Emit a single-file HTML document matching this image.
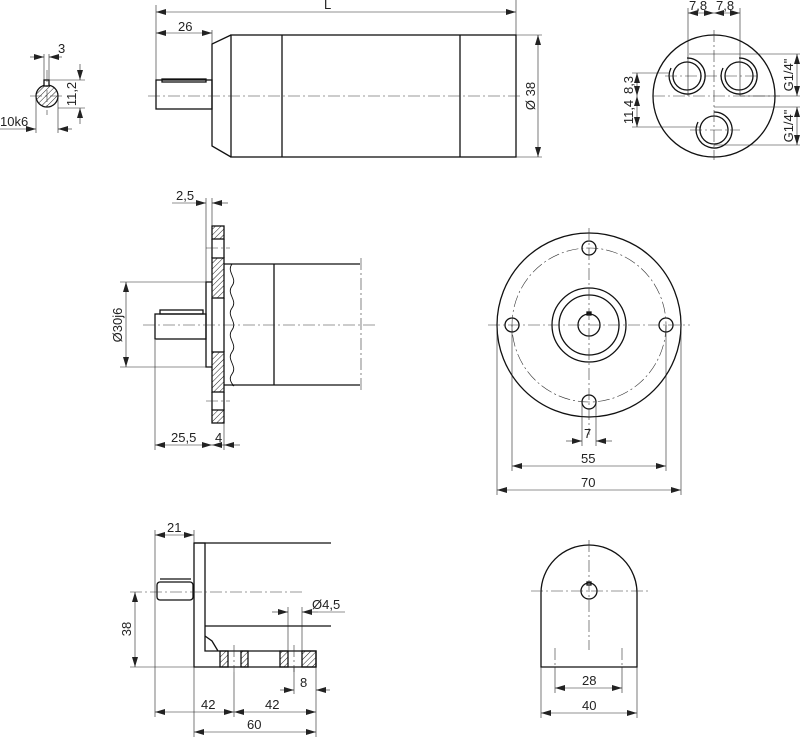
<!DOCTYPE html>
<html><head><style>body{margin:0;background:#fff}svg{display:block}text{font-family:"Liberation Sans",sans-serif;font-size:13px;fill:#222}</style></head><body>
<svg width="800" height="737" viewBox="0 0 800 737" xmlns="http://www.w3.org/2000/svg">
<defs>
<marker id="a" viewBox="0 0 10 6" refX="10" refY="3" markerWidth="10" markerHeight="6" orient="auto-start-reverse" markerUnits="userSpaceOnUse"><path d="M0,0L10,3L0,6z" fill="#222"/></marker>
<pattern id="h" width="4" height="4" patternUnits="userSpaceOnUse" patternTransform="rotate(45)"><line x1="0" y1="0" x2="0" y2="4" stroke="#222" stroke-width="1"/></pattern>
</defs>
<g fill="none" stroke="#111" stroke-width="1.3">
<rect x="231" y="35" width="285" height="122"/>
<line x1="282" y1="35" x2="282" y2="157"/><line x1="460" y1="35" x2="460" y2="157"/>
<path d="M231,35L212,44V146L231,157"/>
<rect x="156" y="80" width="56" height="29"/>
<rect x="162" y="79" width="44" height="3"/>
<circle cx="47" cy="96" r="11" fill="url(#h)"/>
<rect x="44" y="80" width="5" height="6" fill="#fff"/>
<rect x="212" y="226" width="12" height="13" fill="url(#h)"/>
<rect x="212" y="258" width="12" height="40" fill="url(#h)"/>
<rect x="212" y="352" width="12" height="40" fill="url(#h)"/>
<rect x="212" y="410" width="12" height="13" fill="url(#h)"/>
<line x1="212" y1="239" x2="212" y2="258"/><line x1="224" y1="239" x2="224" y2="258"/>
<line x1="212" y1="392" x2="212" y2="410"/><line x1="224" y1="392" x2="224" y2="410"/>
<line x1="224" y1="298" x2="224" y2="352"/>
<path d="M212,282H206V367H212"/>
<line x1="212" y1="298" x2="212" y2="352"/>
<rect x="155" y="314" width="51" height="25"/>
<rect x="160" y="310" width="43" height="4"/>
<path d="M224,264H360M224,385H360"/>
<line x1="274" y1="264" x2="274" y2="385"/>
<path d="M232,264c-6,8 6,14 0,22s6,14 0,22s6,14 0,22s6,14 0,22s6,14 0,22s6,14 0,11" stroke-width="0.9"/>
<circle cx="589" cy="325" r="92"/>
<circle cx="589" cy="325" r="37"/><circle cx="589" cy="325" r="30"/><circle cx="589" cy="325" r="11"/>
<circle cx="512" cy="325" r="7"/><circle cx="666" cy="325" r="7"/><circle cx="589" cy="248" r="7"/><circle cx="589" cy="402" r="7"/>
<rect x="587" y="312" width="4" height="3" fill="#111"/>
<path d="M194,543V667H316V651H205V543Z"/>
<line x1="194" y1="543" x2="331" y2="543"/>
<line x1="205" y1="626" x2="331" y2="626"/>
<path d="M205,636L212,641L218,651"/>
<rect x="220" y="651" width="8" height="16" fill="url(#h)"/>
<rect x="241" y="651" width="7" height="16" fill="url(#h)"/>
<rect x="280" y="651" width="8" height="16" fill="url(#h)"/>
<rect x="302" y="651" width="14" height="16" fill="url(#h)"/>
<rect x="157" y="582" width="36" height="18" rx="3"/>
<line x1="160" y1="579" x2="191" y2="579"/>
<path d="M541,667V593A48,48 0 0 1 637,593V667Z"/>
<circle cx="589" cy="591" r="8"/>
<rect x="587" y="582" width="4" height="3"/>
<circle cx="714" cy="96" r="61"/>
<circle cx="687" cy="76" r="14"/><path d="M687,58A18,18 0 1 1 671,68"/>
<circle cx="739" cy="76" r="14"/><path d="M739,58A18,18 0 1 1 723,68"/>
<circle cx="714" cy="130" r="14"/><path d="M714,112A18,18 0 1 1 698,122"/>
</g>
<g stroke="#333" stroke-width="0.6" stroke-dasharray="12,3,2,3" fill="none">
<line x1="148" y1="96" x2="520" y2="96"/>
<line x1="30" y1="96" x2="65" y2="96"/><line x1="47" y1="70" x2="47" y2="115"/>
<line x1="143" y1="325" x2="375" y2="325"/>
<line x1="206" y1="248" x2="230" y2="248"/><line x1="206" y1="401" x2="230" y2="401"/>
<line x1="361" y1="258" x2="361" y2="392"/>
<line x1="488" y1="325" x2="690" y2="325"/><line x1="589" y1="228" x2="589" y2="435"/>
<circle cx="589" cy="325" r="77"/>
<line x1="130" y1="592" x2="302" y2="592"/>
<line x1="531" y1="591" x2="648" y2="591"/><line x1="589" y1="540" x2="589" y2="650"/>
<line x1="234" y1="645" x2="234" y2="672"/><line x1="294" y1="645" x2="294" y2="672"/>
<line x1="555" y1="648" x2="555" y2="667"/><line x1="622" y1="648" x2="622" y2="667"/>
<line x1="653" y1="96" x2="780" y2="96"/><line x1="714" y1="30" x2="714" y2="160"/>
<line x1="665" y1="76" x2="760" y2="76"/><line x1="690" y1="130" x2="740" y2="130"/>
</g>
<g stroke="#222" stroke-width="0.6" fill="none">
<line x1="156" y1="5" x2="156" y2="80"/><line x1="516" y1="0" x2="516" y2="35"/><line x1="212" y1="30" x2="212" y2="44"/>
<line x1="156" y1="12" x2="516" y2="12" marker-start="url(#a)" marker-end="url(#a)"/>
<line x1="156" y1="33" x2="212" y2="33" marker-start="url(#a)" marker-end="url(#a)"/>
<line x1="516" y1="35" x2="542" y2="35"/><line x1="516" y1="157" x2="542" y2="157"/>
<line x1="538" y1="35" x2="538" y2="157" marker-start="url(#a)" marker-end="url(#a)"/>
<line x1="44" y1="54" x2="44" y2="80"/><line x1="49" y1="54" x2="49" y2="80"/>
<line x1="30" y1="57" x2="44" y2="57" marker-end="url(#a)"/><line x1="62" y1="57" x2="49" y2="57" marker-end="url(#a)"/>
<line x1="49" y1="80" x2="85" y2="80"/><line x1="58" y1="108" x2="85" y2="108"/>
<line x1="80" y1="64" x2="80" y2="80" marker-end="url(#a)"/><line x1="80" y1="124" x2="80" y2="108" marker-end="url(#a)"/>
<line x1="36" y1="96" x2="36" y2="133"/><line x1="58" y1="96" x2="58" y2="133"/>
<line x1="0" y1="129" x2="36" y2="129" marker-end="url(#a)"/><line x1="72" y1="129" x2="58" y2="129" marker-end="url(#a)"/>
<line x1="206" y1="198" x2="206" y2="282"/><line x1="212" y1="198" x2="212" y2="226"/>
<line x1="172" y1="203" x2="206" y2="203" marker-end="url(#a)"/><line x1="228" y1="203" x2="212" y2="203" marker-end="url(#a)"/>
<line x1="120" y1="282" x2="206" y2="282"/><line x1="120" y1="367" x2="206" y2="367"/>
<line x1="126" y1="282" x2="126" y2="367" marker-start="url(#a)" marker-end="url(#a)"/>
<line x1="155" y1="340" x2="155" y2="450"/><line x1="224" y1="423" x2="224" y2="450"/>
<line x1="155" y1="445" x2="212" y2="445" marker-start="url(#a)" marker-end="url(#a)"/>
<line x1="212" y1="445" x2="224" y2="445" marker-start="url(#a)"/><line x1="240" y1="445" x2="224" y2="445" marker-end="url(#a)"/>
<line x1="582" y1="402" x2="582" y2="446"/><line x1="596" y1="402" x2="596" y2="446"/>
<line x1="566" y1="441" x2="582" y2="441" marker-end="url(#a)"/><line x1="612" y1="441" x2="596" y2="441" marker-end="url(#a)"/>
<line x1="512" y1="325" x2="512" y2="471"/><line x1="666" y1="325" x2="666" y2="471"/>
<line x1="512" y1="466" x2="666" y2="466" marker-start="url(#a)" marker-end="url(#a)"/>
<line x1="497" y1="325" x2="497" y2="495"/><line x1="681" y1="325" x2="681" y2="495"/>
<line x1="497" y1="490" x2="681" y2="490" marker-start="url(#a)" marker-end="url(#a)"/>
<line x1="155" y1="530" x2="155" y2="717"/><line x1="194" y1="530" x2="194" y2="543"/>
<line x1="155" y1="535" x2="194" y2="535" marker-start="url(#a)" marker-end="url(#a)"/>
<line x1="130" y1="667" x2="194" y2="667"/>
<line x1="135" y1="592" x2="135" y2="667" marker-start="url(#a)" marker-end="url(#a)"/>
<line x1="288" y1="607" x2="288" y2="651"/><line x1="302" y1="607" x2="302" y2="651"/>
<line x1="272" y1="612" x2="288" y2="612" marker-end="url(#a)"/><line x1="318" y1="612" x2="302" y2="612" marker-end="url(#a)"/><line x1="318" y1="612" x2="345" y2="612"/>
<line x1="294" y1="667" x2="294" y2="694"/><line x1="316" y1="667" x2="316" y2="737"/>
<line x1="280" y1="690" x2="294" y2="690" marker-end="url(#a)"/><line x1="330" y1="690" x2="316" y2="690" marker-end="url(#a)"/>
<line x1="234" y1="672" x2="234" y2="717"/>
<line x1="155" y1="712" x2="234" y2="712" marker-start="url(#a)" marker-end="url(#a)"/>
<line x1="234" y1="712" x2="316" y2="712" marker-start="url(#a)" marker-end="url(#a)"/>
<line x1="194" y1="667" x2="194" y2="737"/>
<line x1="194" y1="732" x2="316" y2="732" marker-start="url(#a)" marker-end="url(#a)"/>
<line x1="555" y1="667" x2="555" y2="693"/><line x1="622" y1="667" x2="622" y2="693"/>
<line x1="555" y1="688" x2="622" y2="688" marker-start="url(#a)" marker-end="url(#a)"/>
<line x1="541" y1="667" x2="541" y2="718"/><line x1="637" y1="667" x2="637" y2="718"/>
<line x1="541" y1="713" x2="637" y2="713" marker-start="url(#a)" marker-end="url(#a)"/>
<line x1="688" y1="8" x2="688" y2="96"/><line x1="740" y1="8" x2="740" y2="96"/>
<line x1="688" y1="13" x2="714" y2="13" marker-start="url(#a)" marker-end="url(#a)"/>
<line x1="714" y1="13" x2="740" y2="13" marker-start="url(#a)" marker-end="url(#a)"/>
<line x1="632" y1="73" x2="670" y2="73"/><line x1="632" y1="127" x2="700" y2="127"/>
<line x1="637" y1="73" x2="637" y2="96" marker-start="url(#a)" marker-end="url(#a)"/>
<line x1="637" y1="96" x2="637" y2="127" marker-start="url(#a)" marker-end="url(#a)"/>
<line x1="689" y1="54" x2="800" y2="54"/><line x1="740" y1="96" x2="800" y2="96"/>
<line x1="797" y1="54" x2="797" y2="96" marker-start="url(#a)" marker-end="url(#a)"/>
<line x1="714" y1="107" x2="800" y2="107"/><line x1="714" y1="145" x2="800" y2="145"/>
<line x1="797" y1="107" x2="797" y2="145" marker-start="url(#a)" marker-end="url(#a)"/>
</g>
<text x="324" y="9">L</text>
<text x="178" y="31">26</text>
<text transform="translate(535,96) rotate(-90)" text-anchor="middle">Ø 38</text>
<text x="58" y="53">3</text>
<text transform="translate(76,94) rotate(-90)" text-anchor="middle">11,2</text>
<text x="0" y="126">10k6</text>
<text x="176" y="200">2,5</text>
<text transform="translate(122,325) rotate(-90)" text-anchor="middle">Ø30j6</text>
<text x="171" y="442">25,5</text>
<text x="215" y="442">4</text>
<text x="584" y="438">7</text>
<text x="581" y="463">55</text>
<text x="581" y="487">70</text>
<text x="167" y="532">21</text>
<text transform="translate(131,629) rotate(-90)" text-anchor="middle">38</text>
<text x="312" y="609">Ø4,5</text>
<text x="300" y="687">8</text>
<text x="201" y="709">42</text>
<text x="265" y="709">42</text>
<text x="247" y="729">60</text>
<text x="582" y="685">28</text>
<text x="582" y="710">40</text>
<text x="689" y="10">7,8</text>
<text x="716" y="10">7,8</text>
<text transform="translate(633,85) rotate(-90)" text-anchor="middle">8,3</text>
<text transform="translate(633,112) rotate(-90)" text-anchor="middle">11,4</text>
<text transform="translate(793,75) rotate(-90)" text-anchor="middle">G1/4"</text>
<text transform="translate(793,126) rotate(-90)" text-anchor="middle">G1/4"</text>
</svg>
</body></html>
